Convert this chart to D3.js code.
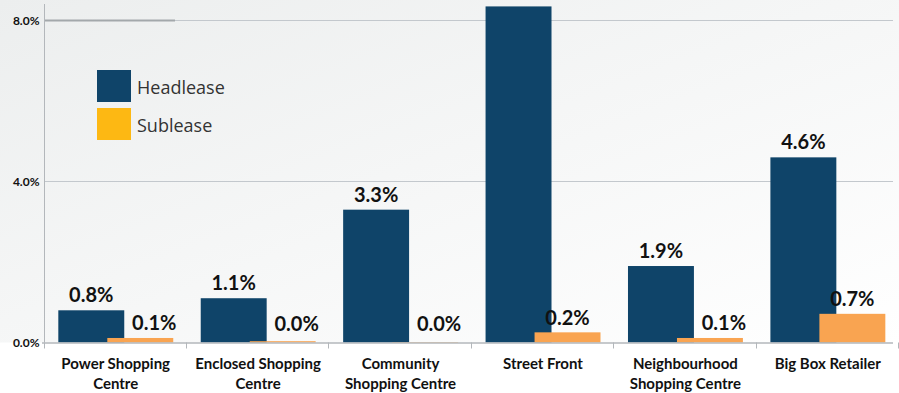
<!DOCTYPE html>
<html><head><meta charset="utf-8">
<script src="https://cdn.jsdelivr.net/npm/d3@7/dist/d3.min.js"></script>
<style>body{margin:0;background:#fff}svg{display:block}</style>
</head><body><svg id="c" width="899" height="393"></svg>
<script>
const categories = [["Power Shopping","Centre"],["Enclosed Shopping","Centre"],["Community","Shopping Centre"],["Street Front"],["Neighbourhood","Shopping Centre"],["Big Box Retailer"]];
const headlease = [0.8, 1.1, 3.3, 8.35, 1.9, 4.6];
const sublease = [0.1, 0.02, 0.0, 0.24, 0.1, 0.7];
const headLabels = ["0.8%","1.1%","3.3%","","1.9%","4.6%"];
const subLabels = ["0.1%","0.0%","0.0%","0.2%","0.1%","0.7%"];
const yTicks = [0, 4, 8];
const seriesNames = ["Headlease","Sublease"];

const W = 899, H = 393;
const svg = d3.select("#c");
const defs = svg.append("defs");
const g1 = defs.append("linearGradient").attr("id","bg").attr("x1","0").attr("y1","0").attr("x2","1").attr("y2","1");
g1.append("stop").attr("offset","0").attr("stop-color","#eceeee");
g1.append("stop").attr("offset","1").attr("stop-color","#ffffff");

const left = 44.5, right = 899, y0 = 342.5, y8 = 20.5;
svg.append("rect").attr("x",0).attr("y",0).attr("width",W).attr("height",y0).attr("fill","url(#bg)");

const x = d3.scaleBand().domain(d3.range(categories.length)).range([left, right]).padding(0);
const y = d3.scaleLinear().domain([0, 8]).range([y0, y8]);
const bw = x.bandwidth();
const barW = bw * 0.463, off1 = bw * 0.097, off2 = bw * 0.441;

// gridlines
svg.append("g").selectAll("line").data(yTicks.filter(t => t > 0)).join("line")
  .attr("x1", left).attr("x2", 893).attr("y1", d => y(d)).attr("y2", d => y(d))
  .attr("stroke", "#c3c8cd").attr("stroke-width", 1);
svg.append("line").attr("x1", left).attr("x2", 175).attr("y1", y(8)).attr("y2", y(8))
  .attr("stroke", "#a3a8ab").attr("stroke-width", 2);

// y axis
svg.append("line").attr("x1", left).attr("x2", left).attr("y1", 4).attr("y2", y0)
  .attr("stroke", "#b3b7bb").attr("stroke-width", 1);
const yAxis = d3.axisLeft(y).tickValues(yTicks).tickFormat(d => d.toFixed(1) + "%").tickSize(0).tickPadding(5);
const ya = svg.append("g").attr("transform", `translate(${left},0)`).call(yAxis);
ya.select(".domain").remove();
ya.selectAll("text").attr("font-family","Lato, 'Open Sans', sans-serif").attr("font-weight","700").attr("font-size","12px").attr("fill","#111");

// bars
const gb = svg.append("g");
gb.selectAll("rect.h").data(headlease).join("rect").attr("class","h")
  .attr("x", (d,i) => x(i) + off1).attr("width", barW)
  .attr("y", d => y(d)).attr("height", d => y0 - y(d)).attr("fill", "#0f4469");
gb.selectAll("rect.s").data(sublease).join("rect").attr("class","s")
  .attr("x", (d,i) => x(i) + off2).attr("width", barW)
  .attr("y", d => y(d) - 0.5).attr("height", d => y0 - y(d) + 0.5).attr("fill", "#f9a451");

// x axis
svg.append("line").attr("x1", 42).attr("x2", 893).attr("y1", y0 + 0.5).attr("y2", y0 + 0.5)
  .attr("stroke", "#b3b7bb").attr("stroke-width", 1.5);
svg.append("g").selectAll("line").data(d3.range(categories.length + 1)).join("line")
  .attr("x1", i => Math.round((i < categories.length ? x(i) : right)) - 0.5)
  .attr("x2", i => Math.round((i < categories.length ? x(i) : right)) - 0.5)
  .attr("y1", y0).attr("y2", y0 + 6).attr("stroke", "#b3b7bb");

const font = "Lato, 'Open Sans', sans-serif";
// category labels
const cl = svg.append("g").selectAll("text").data(categories).join("text")
  .attr("x", (d,i) => x(i) + bw/2).attr("y", 369)
  .attr("text-anchor","middle").attr("font-family", font).attr("font-weight","bold")
  .attr("font-size","15px").attr("fill","#111");
cl.selectAll("tspan").data(d => d).join("tspan")
  .attr("x", function(){ return this.parentNode.getAttribute("x"); })
  .attr("dy", (d,j) => j === 0 ? 0 : 20).text(d => d);

// value labels
svg.append("g").selectAll("text").data(headlease).join("text")
  .attr("x", (d,i) => x(i) + off1 + barW/2).attr("y", d => y(d) - 8)
  .attr("text-anchor","middle").attr("font-family", font).attr("font-weight","bold")
  .attr("font-size","20px").attr("fill","#111").text((d,i) => headLabels[i]);
svg.append("g").selectAll("text").data(sublease).join("text")
  .attr("x", (d,i) => x(i) + off2 + barW/2 + (d < 0.15 ? 14 : 0)).attr("y", d => Math.min(y(d) - 8, 331))
  .attr("text-anchor","middle").attr("font-family", font).attr("font-weight","bold")
  .attr("font-size","20px").attr("fill","#111").text((d,i) => subLabels[i]);

// legend
const legColors = ["#0f4469", "#fdb813"];
const lg = svg.append("g").selectAll("g").data(seriesNames).join("g")
  .attr("transform", (d,i) => `translate(97,${70 + i*38})`);
lg.append("rect").attr("width", 34).attr("height", 32).attr("fill", (d,i) => legColors[i]);
lg.append("text").attr("x", 40).attr("y", 24).attr("font-family", "'Open Sans', Lato, sans-serif")
  .attr("font-size","18px").attr("fill","#333").text(d => d);
</script></body></html>
